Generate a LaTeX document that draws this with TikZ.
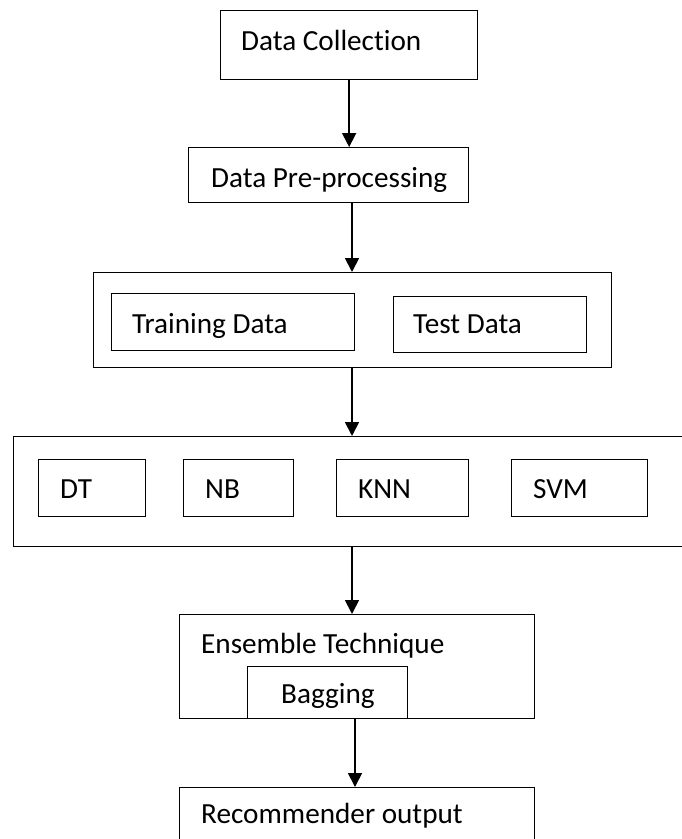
\documentclass[tikz,border=0pt]{standalone}
\usepackage{fontspec}
\setmainfont{Carlito}[Ligatures=NoCommon]
\usepackage{tikz}
\usetikzlibrary{calc,arrows.meta}
\pgfkeys{
  /flowbox/.cd,
  name/.initial=box,
  width/.initial=100,
  height/.initial=50,
  position/.initial={0,0},
  label/.initial={},
  label shift/.initial={22,39},
  clip inset/.initial=-20
}
\tikzset{
  box/.style={draw,line width=1.3pt,rectangle,anchor=north west,inner sep=0pt},
  box text/.style={font=\fontsize{29.2}{35}\selectfont,inner sep=0pt,anchor=base west}
}
\newcommand{\flowbox}[1][]{
    {
        \pgfkeys{/flowbox/.cd,#1}
        \pgfkeys{/flowbox/name/.get=\flowboxname}
        \pgfkeys{/flowbox/width/.get=\flowboxwidth}
        \pgfkeys{/flowbox/height/.get=\flowboxheight}
        \pgfkeys{/flowbox/position/.get=\flowboxposition}
        \pgfkeys{/flowbox/label/.get=\flowboxlabel}
        \pgfkeys{/flowbox/label shift/.get=\flowboxshift}
        \pgfkeys{/flowbox/clip inset/.get=\flowboxinset}
        \node[box,minimum width=\flowboxwidth pt,minimum height=\flowboxheight pt] (\flowboxname) at (\flowboxposition) {};
        \begin{scope}
            \clip (\flowboxname.north west) rectangle ($ (\flowboxname.south east) + (0,-\flowboxinset) $);
            \node[box text] (\flowboxname-text) at ($ (\flowboxposition) + (\flowboxshift) $) {\flowboxlabel};
        \end{scope}
    }
}

\begin{document}
\begin{tikzpicture}[link/.style={line width=1.8pt,-{Triangle[width=14pt,length=14pt]}},x=1pt,y=-1pt]
    \useasboundingbox (0,0) rectangle (681,839);
    \coordinate (spine) at (352,0);

    \flowbox[name=dc,position={220,10},width=257,height=69,label=Data Collection,label shift={21,40}]
    \flowbox[name=pre,position={188,147},width=280,height=55,label=Data Pre-processing,label shift={23,40}]

    % split of the data
    \flowbox[name=split,position={93,272},width=518,height=95]
    \flowbox[name=train,position={111,293},width=243,height=57,label=Training Data,label shift={21,40}]
    \flowbox[name=test,position={393,296},width=193,height=56,label=Test Data,label shift={20,37}]

    % base classifiers
    \flowbox[name=models,position={13,436},width=700,height=110]
    \foreach \m/\x/\w in {DT/38/107,NB/183/110,KNN/336/132,SVM/511/136} {
        \flowbox[name=\m,position={\x,459},width=\w,height=57,label=\m,label shift={22,39}]
    }

    \flowbox[name=ens,position={179,614},width=355,height=104,label=Ensemble Technique,label shift={22,39}]
    \flowbox[name=bag,position={247,666},width=160,height=52,label=Bagging,label shift={34,37},clip inset=10]
    \flowbox[name=rec,position={179,787},width=355,height=80,label=Recommender output,label shift={22,36}]

    \draw[link] (dc.south -| dc.south) -- (pre.north -| dc.south);
    \draw[link] (pre.south -| spine) -- (split.north -| spine);
    \draw[link] (split.south -| spine) -- (models.north -| spine);
    \draw[link] (models.south -| spine) -- (ens.north -| spine);
    \draw[link] ($ (ens.south -| spine) + (3,0) $) -- ($ (rec.north -| spine) + (3,0) $);
\end{tikzpicture}
\end{document}
